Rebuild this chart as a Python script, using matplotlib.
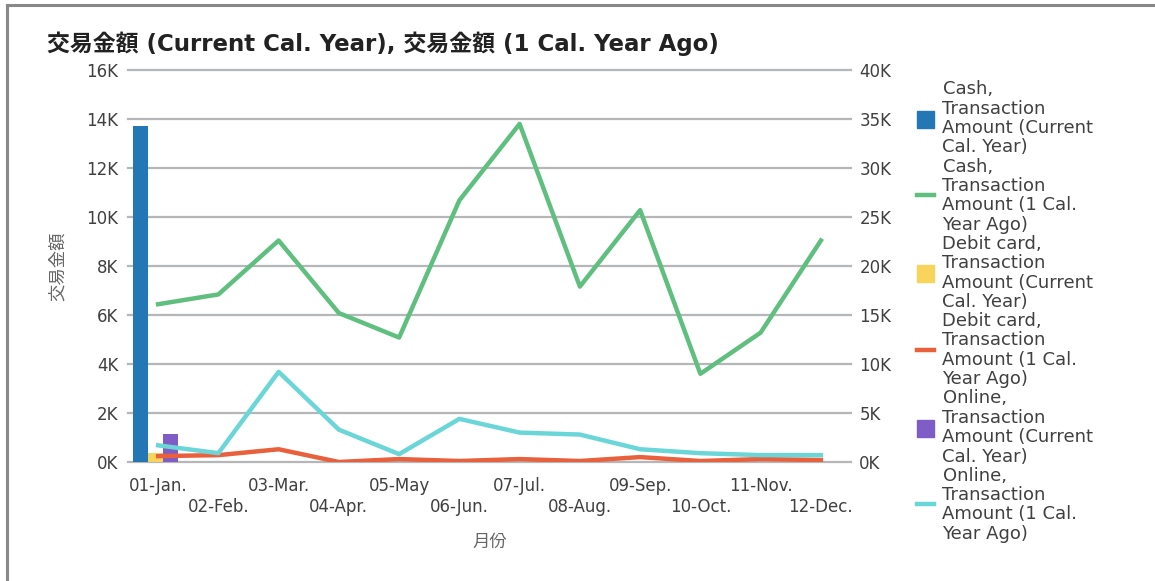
import numpy as np
import matplotlib.pyplot as plt
from matplotlib.patches import Patch
from matplotlib.lines import Line2D

plt.rcParams['font.family'] = ['DejaVu Sans', 'Noto Sans CJK JP']

months = ['01-Jan.', '02-Feb.', '03-Mar.', '04-Apr.', '05-May', '06-Jun.',
          '07-Jul.', '08-Aug.', '09-Sep.', '10-Oct.', '11-Nov.', '12-Dec.']
nan = np.nan

# current calendar year (left axis) - only January reported
cash_cur = [13700, nan, nan, nan, nan, nan, nan, nan, nan, nan, nan, nan]
debit_cur = [380, nan, nan, nan, nan, nan, nan, nan, nan, nan, nan, nan]
online_cur = [1150, nan, nan, nan, nan, nan, nan, nan, nan, nan, nan, nan]

# 1 calendar year ago (right axis)
cash_ago = [16100, 17100, 22600, 15200, 12700, 26700, 34500, 17900, 25700, 9000, 13200, 22600]
debit_ago = [600, 700, 1300, 0, 300, 100, 300, 100, 500, 100, 300, 200]
online_ago = [1700, 900, 9200, 3300, 800, 4400, 3000, 2800, 1300, 900, 700, 700]

c_blue = '#2277b4'
c_green = '#5fbf7f'
c_yellow = '#f8d45a'
c_red = '#e8603c'
c_purple = '#7f5cc6'
c_cyan = '#6ad6d8'
txt = '#404040'

W, H = 1155, 581
fig = plt.figure(figsize=(W / 100, H / 100), dpi=100)
ax = fig.add_axes([128 / W, 1 - 462 / H, (851 - 128) / W, (462 - 70) / H])
ax2 = ax.twinx()

x = np.arange(len(months))
bw = 0.25
ax.bar(x - bw - 0.04, cash_cur, bw, color=c_blue, zorder=2)
ax.bar(x - 0.04, debit_cur, bw, color=c_yellow, zorder=2)
ax.bar(x + bw - 0.04, online_cur, bw, color=c_purple, zorder=2)

ax2.plot(x, cash_ago, color=c_green, lw=3.2)
ax2.plot(x, debit_ago, color=c_red, lw=3.2)
ax2.plot(x, online_ago, color=c_cyan, lw=3.2)

ax.set_xlim(-0.5, len(months) - 0.5)
ax.set_ylim(0, 16000)
ax2.set_ylim(0, 40000)
ax.set_yticks(np.arange(0, 16001, 2000))
ax.set_yticklabels(['%dK' % (v // 1000) for v in range(0, 16001, 2000)])
ax2.set_yticks(np.arange(0, 40001, 5000))
ax2.set_yticklabels(['%dK' % (v // 1000) for v in range(0, 40001, 5000)])
ax.set_xticks(x)
ax.set_xticklabels([m if i % 2 == 0 else '\n' + m for i, m in enumerate(months)],
                   linespacing=1.2)

for a in (ax, ax2):
    for s in a.spines.values():
        s.set_visible(False)
    a.tick_params(length=0, labelsize=12, colors=txt)
ax.tick_params(axis='y', pad=7)
ax2.tick_params(axis='y', pad=6)
ax.tick_params(axis='x', pad=11)
ax.grid(axis='y', color='#b4b6b8', lw=1.6, zorder=0)
for gl in ax.get_ygridlines():
    gl.set_clip_on(False)
ax.set_axisbelow(True)

ax.set_ylabel('交易金額', color='#666666', fontsize=12.5, labelpad=14)
ax.set_xlabel('月份', color='#666666', fontsize=12.5, labelpad=12)

fig.text(47 / W, 1 - 44 / H, '交易金額 (Current Cal. Year), 交易金額 (1 Cal. Year Ago)',
         fontsize=16.5, fontweight='bold', color='#222222', va='center')

handles = [
    Patch(color=c_blue), Line2D([], [], color=c_green, lw=3.2),
    Patch(color=c_yellow), Line2D([], [], color=c_red, lw=3.2),
    Patch(color=c_purple), Line2D([], [], color=c_cyan, lw=3.2),
]
labels = [
    'Cash,\nTransaction\nAmount (Current\nCal. Year)',
    'Cash,\nTransaction\nAmount (1 Cal.\nYear Ago)',
    'Debit card,\nTransaction\nAmount (Current\nCal. Year)',
    'Debit card,\nTransaction\nAmount (1 Cal.\nYear Ago)',
    'Online,\nTransaction\nAmount (Current\nCal. Year)',
    'Online,\nTransaction\nAmount (1 Cal.\nYear Ago)',
]
leg = fig.legend(handles, labels, loc='upper left', bbox_to_anchor=(910 / W, 1 - 73 / H),
                 frameon=False, fontsize=13, handlelength=0.95, handleheight=1.1,
                 handletextpad=0.45, labelspacing=0.06, borderaxespad=0)
for t in leg.get_texts():
    t.set_color(txt)
    t.set_linespacing(1.1)

# outer frame (left and top edges visible)
fig.add_artist(Line2D([7 / W, 7 / W], [0, 1 - 5 / H], color='#888888', lw=2.2))
fig.add_artist(Line2D([7 / W, 1], [1 - 5 / H, 1 - 5 / H], color='#888888', lw=2.2))

fig.savefig('out.png', dpi=100)
